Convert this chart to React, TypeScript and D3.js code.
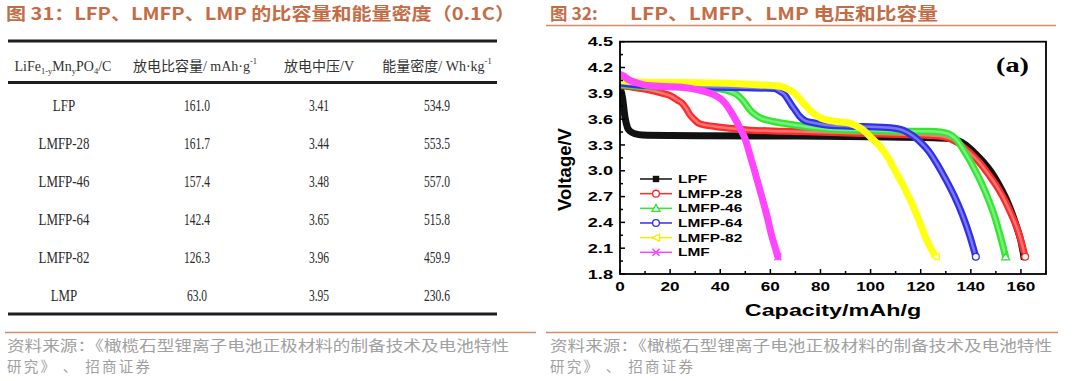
import React from "react";
import * as d3 from "d3";

// ---------- Table data (图 31) ----------
const materials = ["LFP", "LMFP-28", "LMFP-46", "LMFP-64", "LMFP-82", "LMP"];
const dischargeCapacity = [161.0, 161.7, 157.4, 142.4, 126.3, 63.0];
const midVoltage = [3.41, 3.44, 3.48, 3.65, 3.96, 3.95];
const energyDensity = [534.9, 553.5, 557.0, 515.8, 459.9, 230.6];

// ---------- Chart data (图 32) : [capacity mAh/g, voltage V] ----------
const lpfCurve: [number, number][] = [
  [0, 3.97], [1, 3.85], [2, 3.62], [3, 3.5], [4, 3.46], [6, 3.43], [9, 3.415], [20, 3.41],
  [60, 3.405], [100, 3.395], [125, 3.385], [131, 3.375], [134, 3.36], [138, 3.3], [141, 3.22],
  [145, 3.1], [148, 2.99], [151, 2.85], [154, 2.68], [156.5, 2.5], [158.5, 2.33], [160, 2.18], [161.2, 2.0],
];
const lmfp28Curve: [number, number][] = [
  [0, 3.99], [5, 3.97], [11.3, 3.94], [17, 3.9], [20.6, 3.865], [23, 3.82], [24.6, 3.79], [26.5, 3.72],
  [27.9, 3.65], [29.5, 3.6], [31.2, 3.555], [34, 3.53], [37.8, 3.515], [45, 3.49], [51, 3.475],
  [65, 3.46], [77.6, 3.45], [100, 3.43], [120, 3.415], [128, 3.4], [132, 3.37], [134.5, 3.33],
  [138, 3.25], [141, 3.17], [143.3, 3.1], [147, 2.96], [151.2, 2.78], [154, 2.63], [156.5, 2.47],
  [158.5, 2.33], [160.2, 2.17], [161.7, 2.0],
];
const lmfp46Curve: [number, number][] = [
  [0, 4.0], [10, 3.98], [30, 3.97], [37.8, 3.96], [42, 3.94], [45.8, 3.9], [48, 3.85], [49.8, 3.79],
  [51, 3.74], [52.4, 3.69], [54.5, 3.64], [56.4, 3.61], [60, 3.58], [64.4, 3.555], [70, 3.53],
  [77.6, 3.5], [85, 3.48], [100, 3.47], [115, 3.46], [123.4, 3.46], [128, 3.45], [131, 3.43],
  [134, 3.37], [136.6, 3.265], [139, 3.15], [142, 2.99], [144.5, 2.84], [147.3, 2.645], [149.5, 2.47],
  [151.2, 2.3], [152.5, 2.16], [153.9, 2.0],
];
const lmfp64Curve: [number, number][] = [
  [0, 4.02], [10, 3.99], [30, 3.975], [50, 3.965], [61.7, 3.955], [64, 3.92], [65.7, 3.885], [67, 3.83],
  [68.3, 3.77], [70, 3.7], [71.6, 3.635], [74, 3.58], [77.6, 3.555], [84.3, 3.525], [96.8, 3.515],
  [108, 3.5], [112, 3.48], [114.5, 3.45], [116.7, 3.41], [120, 3.33], [123.4, 3.22], [126.5, 3.08],
  [130, 2.9], [133.5, 2.7], [136.6, 2.49], [139.5, 2.25], [142, 2.0],
];
const lmfp82Curve: [number, number][] = [
  [0, 4.05], [10, 4.03], [37.8, 4.02], [55, 4.0], [64.4, 3.98], [67.5, 3.94], [69.7, 3.9], [72.5, 3.81],
  [75, 3.73], [77.5, 3.66], [80.3, 3.61], [85.6, 3.575], [91.5, 3.555], [94, 3.525], [96.8, 3.48],
  [100, 3.39], [103.5, 3.29], [107, 3.15], [110, 2.99], [113.5, 2.8], [116.7, 2.605], [119.5, 2.41],
  [122, 2.22], [126, 2.0],
];
const lmfCurve: [number, number][] = [
  [0, 4.12], [1.5, 4.1], [3.3, 4.06], [7, 4.02], [11.3, 3.99], [24.6, 3.97], [31.2, 3.94], [35, 3.91],
  [37.8, 3.88], [40, 3.84], [41.8, 3.79], [44, 3.7], [45.8, 3.61], [48, 3.49], [49.8, 3.38],
  [51.8, 3.19], [53.8, 2.99], [55.8, 2.78], [57.8, 2.57], [59.2, 2.41], [60.4, 2.26], [61.7, 2.13], [63, 2.0],
];

const seriesNames = ["LPF", "LMFP-28", "LMFP-46", "LMFP-64", "LMFP-82", "LMF"];
const seriesCurves = [lpfCurve, lmfp28Curve, lmfp46Curve, lmfp64Curve, lmfp82Curve, lmfCurve];
const seriesColors = ["#111111", "#ff2b2b", "#33e633", "#3030ea", "#ffff10", "#ff45ff"];
const seriesMarkers = ["square", "circle", "triangle", "circle", "star", "cross"];

const xTicks = d3.range(0, 171, 10);
const yTicks = d3.range(0, 19).map((i) => 1.8 + 0.15 * i);

const ORANGE = "#c46c46";
const RULE = "#cf8d69";
const LATIN_CJK = "'Liberation Serif', 'Noto Sans CJK SC', serif";
const SANS = "'Liberation Sans', Arial, sans-serif";

function SText(props: {
  x: number; y: number; sx?: number; anchor?: string; size: number; weight?: string | number;
  family?: string; fill?: string; children: React.ReactNode;
}) {
  const { x, y, sx = 1, anchor = "start", size, weight = "normal", family = SANS, fill = "#000", children } = props;
  return (
    <text
      transform={`translate(${x},${y}) scale(${sx},1)`}
      textAnchor={anchor as any}
      fontSize={size}
      fontWeight={weight as any}
      fontFamily={family}
      fill={fill}
    >
      {children}
    </text>
  );
}

function Marker({ type, cx, cy, color }: { type: string; cx: number; cy: number; color: string }) {
  const sw = 1.3;
  if (type === "square") return <rect x={cx - 3.2} y={cy - 3.2} width={6.4} height={6.4} fill={color} />;
  if (type === "circle") return <circle cx={cx} cy={cy} r={3.4} fill="#fff" stroke={color} strokeWidth={sw} />;
  if (type === "triangle")
    return (
      <path
        d={`M${cx},${cy - 4} L${cx + 4},${cy + 3} L${cx - 4},${cy + 3} Z`}
        fill="#fff"
        stroke={color}
        strokeWidth={sw}
      />
    );
  if (type === "star")
    return (
      <path
        d={`M${cx - 4},${cy} L${cx + 3.5},${cy - 3.5} L${cx + 3.5},${cy + 3.5} Z`}
        fill="#fff"
        stroke={color}
        strokeWidth={sw}
      />
    );
  return (
    <path
      d={`M${cx - 3.5},${cy - 3.5} L${cx + 3.5},${cy + 3.5} M${cx + 3.5},${cy - 3.5} L${cx - 3.5},${cy + 3.5}`}
      stroke={color}
      strokeWidth={1.6}
    />
  );
}

export default function App() {
  // chart scales
  const x = d3.scaleLinear().domain([0, 170]).range([620, 1046]);
  const y = d3.scaleLinear().domain([1.8, 4.5]).range([274, 41.7]);
  const line = d3
    .line<[number, number]>()
    .x((d) => x(d[0]))
    .y((d) => y(d[1]))
    .curve(d3.curveMonotoneX);

  // table scales
  const rowBand = d3.scaleBand<string>().domain(materials).range([86, 314]);
  const colX = [64, 197, 319, 437];
  const legendY = d3.scalePoint<string>().domain(seriesNames).range([179, 252.3]);

  const x0 = x.range()[0];
  const x1 = x.range()[1];
  const yTop = y.range()[1];
  const yBot = y.range()[0];

  return (
    <svg
      width={1080}
      height={381}
      style={{ position: "absolute", left: 0, top: 0, background: "#fff" }}
    >
      <defs>
        <clipPath id="plotClip">
          <rect x={x0} y={yTop} width={x1 - x0} height={yBot - yTop} />
        </clipPath>
      </defs>

      {/* ---------- titles ---------- */}
      <text x={6} y={20} fontSize={17.5} fontWeight="bold" fill={ORANGE} fontFamily="'Noto Sans CJK SC', sans-serif" textLength={509} lengthAdjust="spacingAndGlyphs">
        图 31：LFP、LMFP、LMP 的比容量和能量密度（0.1C）
      </text>
      <text x={550} y={20} fontSize={17.5} fontWeight="bold" fill={ORANGE} fontFamily="'Noto Sans CJK SC', sans-serif">
        图 32:
      </text>
      <text x={630} y={20} fontSize={17.5} fontWeight="bold" fill={ORANGE} fontFamily="'Noto Sans CJK SC', sans-serif" textLength={308} lengthAdjust="spacingAndGlyphs">
        LFP、LMFP、LMP 电压和比容量
      </text>
      <line x1={546} x2={1056} y1={25.5} y2={25.5} stroke={RULE} strokeWidth={1.5} />

      {/* ---------- table ---------- */}
      <line x1={8} x2={497} y1={41} y2={41} stroke="#1e1e1e" strokeWidth={3} />
      <line x1={8} x2={497} y1={82.5} y2={82.5} stroke="#1e1e1e" strokeWidth={3} />
      <line x1={8} x2={497} y1={314} y2={314} stroke="#1e1e1e" strokeWidth={3} />

      <text x={colX[0] - 1} y={71} textAnchor="middle" fontSize={14} fontFamily={LATIN_CJK} fill="#333">
        LiFe<tspan fontSize={8.5} dy={3}>1-y</tspan>
        <tspan dy={-3}>Mn</tspan>
        <tspan fontSize={8.5} dy={3}>y</tspan>
        <tspan dy={-3}>PO</tspan>
        <tspan fontSize={8.5} dy={3}>4</tspan>
        <tspan dy={-3}>/C</tspan>
      </text>
      <text x={colX[1] - 2} y={71} textAnchor="middle" fontSize={14} fontFamily={LATIN_CJK} fill="#333">
        放电比容量/ mAh·g<tspan fontSize={8.5} dy={-7}>-1</tspan>
      </text>
      <text x={colX[2]} y={71} textAnchor="middle" fontSize={14} fontFamily={LATIN_CJK} fill="#333">
        放电中压/V
      </text>
      <text x={colX[3]} y={71} textAnchor="middle" fontSize={14} fontFamily={LATIN_CJK} fill="#333">
        能量密度/ Wh·kg<tspan fontSize={8.5} dy={-7}>-1</tspan>
      </text>

      {materials.map((m, i) => {
        const cy = (rowBand(m) as number) + rowBand.bandwidth() / 2 + 6;
        return (
          <g key={m}>
            <SText x={colX[0]} y={cy} sx={0.74} anchor="middle" size={17.5} family={LATIN_CJK} fill="#2a2a2a">{m}</SText>
            <SText x={colX[1]} y={cy} sx={0.66} anchor="middle" size={17.5} family={LATIN_CJK} fill="#2a2a2a">{dischargeCapacity[i].toFixed(1)}</SText>
            <SText x={colX[2]} y={cy} sx={0.66} anchor="middle" size={17.5} family={LATIN_CJK} fill="#2a2a2a">{midVoltage[i].toFixed(2)}</SText>
            <SText x={colX[3]} y={cy} sx={0.66} anchor="middle" size={17.5} family={LATIN_CJK} fill="#2a2a2a">{energyDensity[i].toFixed(1)}</SText>
          </g>
        );
      })}

      {/* ---------- chart ---------- */}
      <g clipPath="url(#plotClip)">
        {seriesCurves.map((c, i) => (
          <g key={seriesNames[i]}>
            <path d={line(c) || ""} fill="none" stroke={seriesColors[i]} strokeWidth={7} strokeLinecap="round" strokeLinejoin="round" />
            {(i === 1 || i === 2 || i === 3) && (
              <path
                d={line(c) || ""}
                fill="none"
                stroke={d3.interpolateRgb(seriesColors[i], "#ffffff")(0.35)}
                strokeWidth={2.5}
                strokeLinecap="round"
              />
            )}
          </g>
        ))}
      </g>
      {seriesCurves.map((c, i) => {
        const last = c[c.length - 1];
        return <Marker key={"end" + i} type={seriesMarkers[i]} cx={x(last[0])} cy={y(last[1])} color={seriesColors[i]} />;
      })}

      {/* frame */}
      <rect x={x0} y={yTop} width={x1 - x0} height={yBot - yTop} fill="none" stroke="#000" strokeWidth={1.8} />

      {/* x ticks */}
      {xTicks.map((t) => {
        const major = t % 20 === 0;
        return (
          <g key={"xt" + t}>
            <line x1={x(t)} x2={x(t)} y1={yBot} y2={yBot - (major ? 5 : 3)} stroke="#000" strokeWidth={1.5} />
            {major && (
              <SText x={x(t)} y={290.5} sx={1.32} anchor="middle" size={13} weight="bold">
                {t}
              </SText>
            )}
          </g>
        );
      })}
      {/* y ticks */}
      {yTicks.map((t, i) => {
        const major = i % 2 === 0;
        return (
          <g key={"yt" + i}>
            <line x1={x0} x2={x0 + (major ? 5 : 3)} y1={y(t)} y2={y(t)} stroke="#000" strokeWidth={1.5} />
            {major && (
              <SText x={613} y={y(t) + 4.6} sx={1.4} anchor="end" size={13} weight="bold">
                {t.toFixed(1)}
              </SText>
            )}
          </g>
        );
      })}

      {/* axis titles */}
      <SText x={833} y={316} sx={1.46} anchor="middle" size={16} weight="bold">
        Capacity/mAh/g
      </SText>
      <text
        transform="translate(571,169.5) rotate(-90)"
        textAnchor="middle"
        fontSize={18.5}
        fontWeight="bold"
        fontFamily={SANS}
      >
        Voltage/V
      </text>

      {/* (a) */}
      <text x={996} y={72} fontSize={20} fontWeight="bold" fontFamily="'Liberation Serif', serif" textLength={33} lengthAdjust="spacingAndGlyphs">
        (a)
      </text>

      {/* legend */}
      {seriesNames.map((n, i) => {
        const ly = legendY(n) as number;
        const col = seriesColors[i] === "#ffff10" ? "#f2ee00" : seriesColors[i];
        return (
          <g key={"lg" + n}>
            <line x1={640} x2={672} y1={ly} y2={ly} stroke={col} strokeWidth={1.5} />
            <Marker type={seriesMarkers[i]} cx={656} cy={ly} color={col} />
            <SText x={678} y={ly + 4} sx={1.47} size={10.5} weight="bold">
              {n}
            </SText>
          </g>
        );
      })}

      {/* ---------- source notes ---------- */}
      <line x1={5} x2={536} y1={332.5} y2={332.5} stroke={RULE} strokeWidth={1.5} />
      <line x1={546} x2={1058} y1={332.5} y2={332.5} stroke={RULE} strokeWidth={1.5} />
      {[7, 550].map((sx0) => (
        <g key={"src" + sx0}>
          <text x={sx0} y={350.5} fontSize={14.5} fill="#a0a0a0" fontFamily="'Noto Sans CJK SC', sans-serif" textLength={502} lengthAdjust="spacingAndGlyphs">
            资料来源：《橄榄石型锂离子电池正极材料的制备技术及电池特性
          </text>
          <text x={sx0} y={372} fontSize={14.5} fill="#a0a0a0" fontFamily="'Noto Sans CJK SC', sans-serif" textLength={143} lengthAdjust="spacing">
            研究》 、 招商证券
          </text>
        </g>
      ))}
    </svg>
  );
}
